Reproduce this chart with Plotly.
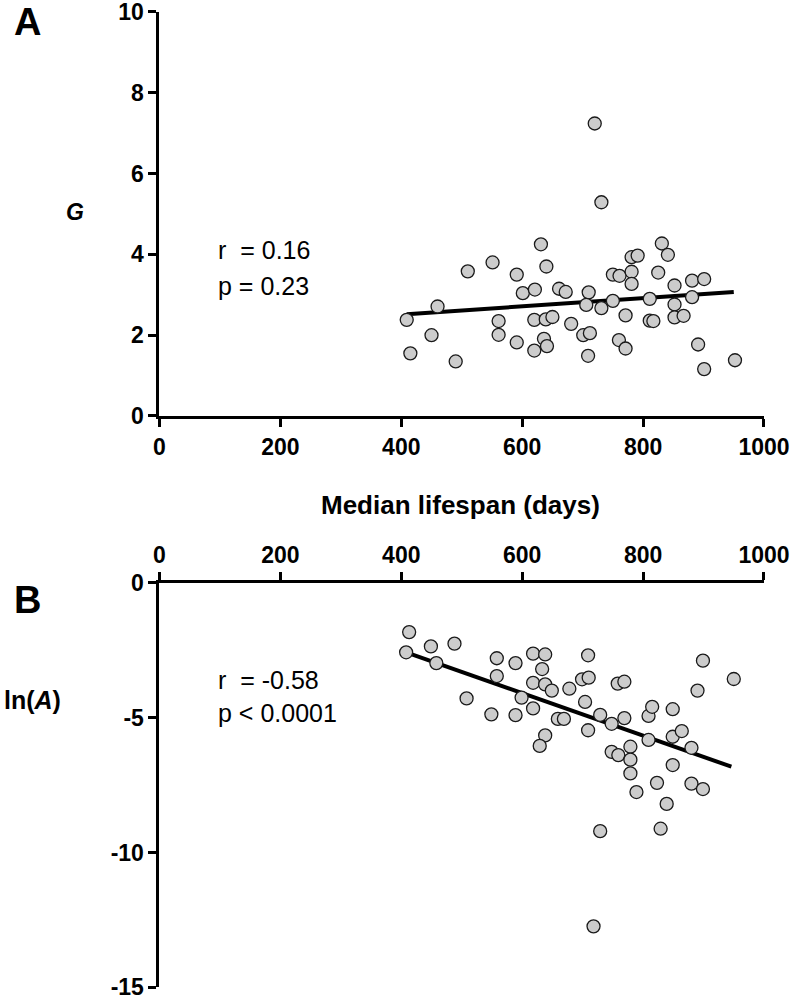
import plotly.graph_objects as go

# Panel A: G vs median lifespan
lifespan_a = [409, 415, 460, 450, 490, 510, 551, 561, 561, 591, 591, 601, 621, 631, 640,
              620, 639, 650, 636, 641, 620, 661, 672, 681, 701, 710, 706, 709, 712, 720,
              731, 731, 750, 750, 761, 771, 760, 771, 781, 791, 781, 781, 811, 811, 817,
              825, 831, 841, 852, 852, 852, 867, 881, 881, 901, 891, 901, 952]
g_vals = [2.38, 1.55, 2.71, 2.00, 1.35, 3.58, 3.80, 2.35, 2.01, 3.50, 1.82, 3.04, 3.13, 4.25, 3.70,
          2.38, 2.39, 2.45, 1.91, 1.73, 1.62, 3.15, 3.07, 2.28, 2.00, 3.06, 2.75, 1.49, 2.05, 7.24,
          5.29, 2.67, 2.85, 3.50, 3.47, 2.49, 1.88, 1.67, 3.93, 3.97, 3.57, 3.27, 2.90, 2.36, 2.35,
          3.55, 4.27, 3.99, 3.23, 2.76, 2.44, 2.48, 3.35, 2.94, 3.39, 1.77, 1.16, 1.38]
fit_x_a = [409, 950]
fit_y_a = [2.52, 3.07]

# Panel B: ln(A) vs median lifespan
lifespan_b = [413, 408, 449, 488, 458, 508, 558, 558, 549, 589, 589, 599, 618, 638, 633,
              618, 638, 649, 618, 659, 669, 638, 629, 678, 699, 709, 710, 704, 709, 729,
              748, 769, 758, 769, 748, 759, 779, 779, 779, 789, 809, 815, 809, 823, 839,
              849, 849, 864, 849, 880, 880, 899, 890, 899, 950, 729, 829, 718]
ln_a = [-1.83, -2.58, -2.36, -2.26, -2.98, -4.29, -2.80, -3.46, -4.88, -2.98, -4.91, -4.26, -2.63, -2.66, -3.20,
        -3.71, -3.77, -4.00, -4.66, -5.05, -5.05, -5.66, -6.05, -3.93, -3.58, -2.69, -3.52, -4.42, -5.47, -4.90,
        -5.23, -5.02, -3.74, -3.67, -6.27, -6.39, -6.08, -6.56, -7.07, -7.76, -4.94, -4.60, -5.83, -7.42, -8.20,
        -4.69, -5.71, -5.50, -6.76, -6.12, -7.45, -7.65, -4.00, -2.89, -3.57, -9.21, -9.12, -12.74]
fit_x_b = [408, 946]
fit_y_b = [-2.58, -6.82]

x_ticks = [0, 200, 400, 600, 800, 1000]
ya_ticks = [0, 2, 4, 6, 8, 10]
yb_ticks = [0, -5, -10, -15]

FONT = "Liberation Sans, Arial, sans-serif"
marker = dict(size=13, color="#cccccc", line=dict(color="#1a1a1a", width=1.3))

fig = go.Figure()
fig.add_trace(go.Scatter(x=fit_x_a, y=fit_y_a, mode="lines", line=dict(color="black", width=4),
                         xaxis="x", yaxis="y", hoverinfo="skip"))
fig.add_trace(go.Scatter(x=lifespan_a, y=g_vals, mode="markers", marker=marker,
                         xaxis="x", yaxis="y"))
fig.add_trace(go.Scatter(x=fit_x_b, y=fit_y_b, mode="lines", line=dict(color="black", width=4),
                         xaxis="x2", yaxis="y2", hoverinfo="skip"))
fig.add_trace(go.Scatter(x=lifespan_b, y=ln_a, mode="markers", marker=marker,
                         xaxis="x2", yaxis="y2"))

axis_style = dict(showline=True, linewidth=3, linecolor="black", ticks="outside",
                  ticklen=8, tickwidth=3, tickcolor="black", showgrid=False, zeroline=False,
                  tickfont=dict(family=FONT, size=23, color="black", weight="bold"),
                  ticklabeloverflow="allow", automargin=False)

fig.update_layout(
    width=797, height=999,
    margin=dict(l=0, r=0, t=0, b=0),
    plot_bgcolor="white", paper_bgcolor="white",
    showlegend=False,
    xaxis=dict(domain=[0.2001, 0.9586], range=[0, 1000], anchor="y",
               tickvals=x_ticks, ticktext=[str(v) for v in x_ticks], **axis_style),
    yaxis=dict(domain=[0.5836, 0.988], range=[0, 10], anchor="x",
               tickvals=ya_ticks, ticktext=[str(v) for v in ya_ticks], **axis_style),
    xaxis2=dict(domain=[0.2001, 0.9586], range=[0, 1000], anchor="y2", side="top",
                tickvals=x_ticks, ticktext=[str(v) for v in x_ticks], **axis_style),
    yaxis2=dict(domain=[0.0117, 0.4167], range=[-15, 0], anchor="x2",
                tickvals=yb_ticks, ticktext=[str(v) for v in yb_ticks], **axis_style),
)

def note(text, x, y, size, xanchor="center", **kw):
    fig.add_annotation(text=text, x=x, y=y, xref="paper", yref="paper", showarrow=False,
                       xanchor=xanchor, yanchor="middle",
                       font=dict(family=FONT, size=size, color="black", **kw))

note("A", 0.034, 0.978, 38, weight="bold")
note("B", 0.034, 0.399, 38, weight="bold")
note("<b><i>G</i></b>", 0.094, 0.788, 23)
note("<b>ln(<i>A</i>)</b>", 0.041, 0.299, 25)
note("Median lifespan (days)", 0.5775, 0.4945, 26, weight="bold")
note("r  = 0.16", 0.271, 0.750, 25, xanchor="left")
note("p = 0.23", 0.271, 0.714, 25, xanchor="left")
note("r  = -0.58", 0.271, 0.3193, 25, xanchor="left")
note("p &lt; 0.0001", 0.271, 0.2863, 25, xanchor="left")

# drop the page's default body margin so the figure sits at the window corner
fig.write_html("out.html", config={"displayModeBar": False},
               post_script="document.body.style.margin='0';")
